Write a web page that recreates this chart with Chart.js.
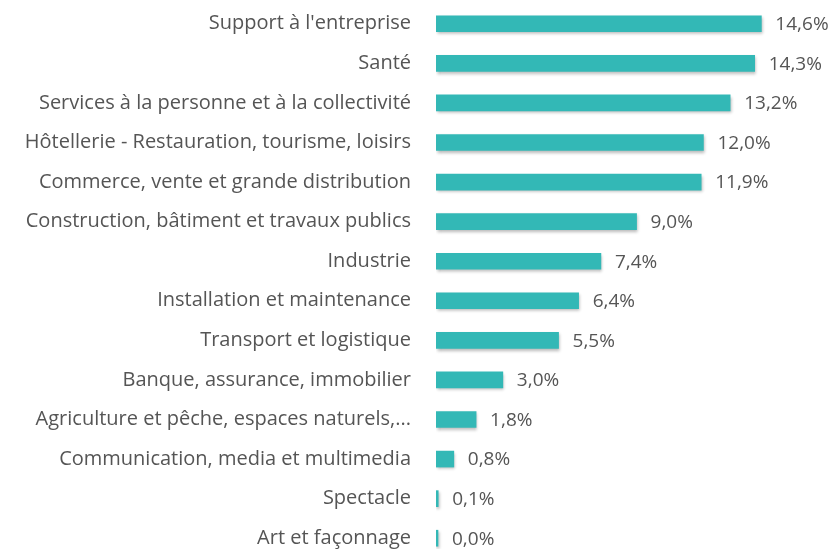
<!DOCTYPE html>
<html>
<head>
<meta charset="utf-8">
<script src="https://cdn.jsdelivr.net/npm/chart.js@4"></script>
<style>
  html, body { margin: 0; padding: 0; background: #fff; overflow: hidden; }
  canvas { display: block; }
</style>
</head>
<body>
<canvas id="chart" width="835" height="562"></canvas>
<script>
const categories = [
  "Support à l'entreprise",
  "Santé",
  "Services à la personne et à la collectivité",
  "Hôtellerie - Restauration, tourisme, loisirs",
  "Commerce, vente et grande distribution",
  "Construction, bâtiment et travaux publics",
  "Industrie",
  "Installation et maintenance",
  "Transport et logistique",
  "Banque, assurance, immobilier",
  "Agriculture et pêche, espaces naturels,...",
  "Communication, media et multimedia",
  "Spectacle",
  "Art et façonnage"
];
const shares = [14.6, 14.3, 13.2, 12.0, 11.9, 9.0, 7.4, 6.4, 5.5, 3.0, 1.8, 0.8, 0.1, 0.0];

const FONT = "'Open Sans', sans-serif";

// soft drop shadow under the bars
const barShadow = {
  id: "barShadow",
  beforeDatasetsDraw(chart) {
    const ctx = chart.ctx;
    ctx.save();
    ctx.shadowColor = "rgba(0,0,0,0.28)";
    ctx.shadowBlur = 3;
    ctx.shadowOffsetX = 1;
    ctx.shadowOffsetY = 2;
  },
  afterDatasetsDraw(chart) {
    chart.ctx.restore();
  }
};

// value labels at the end of each bar
const valueLabels = {
  id: "valueLabels",
  afterDraw(chart) {
    const ctx = chart.ctx;
    const meta = chart.getDatasetMeta(0);
    ctx.save();
    ctx.font = "19px " + FONT;
    ctx.fillStyle = "#555555";
    ctx.textAlign = "left";
    ctx.textBaseline = "middle";
    meta.data.forEach((bar, i) => {
      const txt = shares[i].toFixed(1).replace(".", ",") + "%";
      ctx.fillText(txt, bar.x + 14, bar.y + 1);
    });
    ctx.restore();
  }
};

new Chart(document.getElementById("chart"), {
  type: "bar",
  data: {
    labels: categories,
    datasets: [{
      data: shares,
      backgroundColor: "#33b8b6",
      barThickness: 16,
      minBarLength: 2
    }]
  },
  options: {
    indexAxis: "y",
    responsive: false,
    animation: false,
    layout: { padding: { top: 4, bottom: 4, right: 9, left: 0 } },
    plugins: {
      legend: { display: false },
      tooltip: { enabled: false }
    },
    scales: {
      x: {
        display: false,
        min: 0,
        max: 17.5
      },
      y: {
        border: { display: false },
        grid: { display: false, drawTicks: false },
        afterFit: axis => {
          axis.width = 436;
          // tick padding would otherwise push the plot down
          axis.paddingTop = 0;
          axis.paddingBottom = 0;
        },
        ticks: {
          padding: 25,
          color: "#555555",
          font: { family: FONT, size: 20 }
        }
      }
    }
  },
  plugins: [barShadow, valueLabels]
});
</script>
</body>
</html>
